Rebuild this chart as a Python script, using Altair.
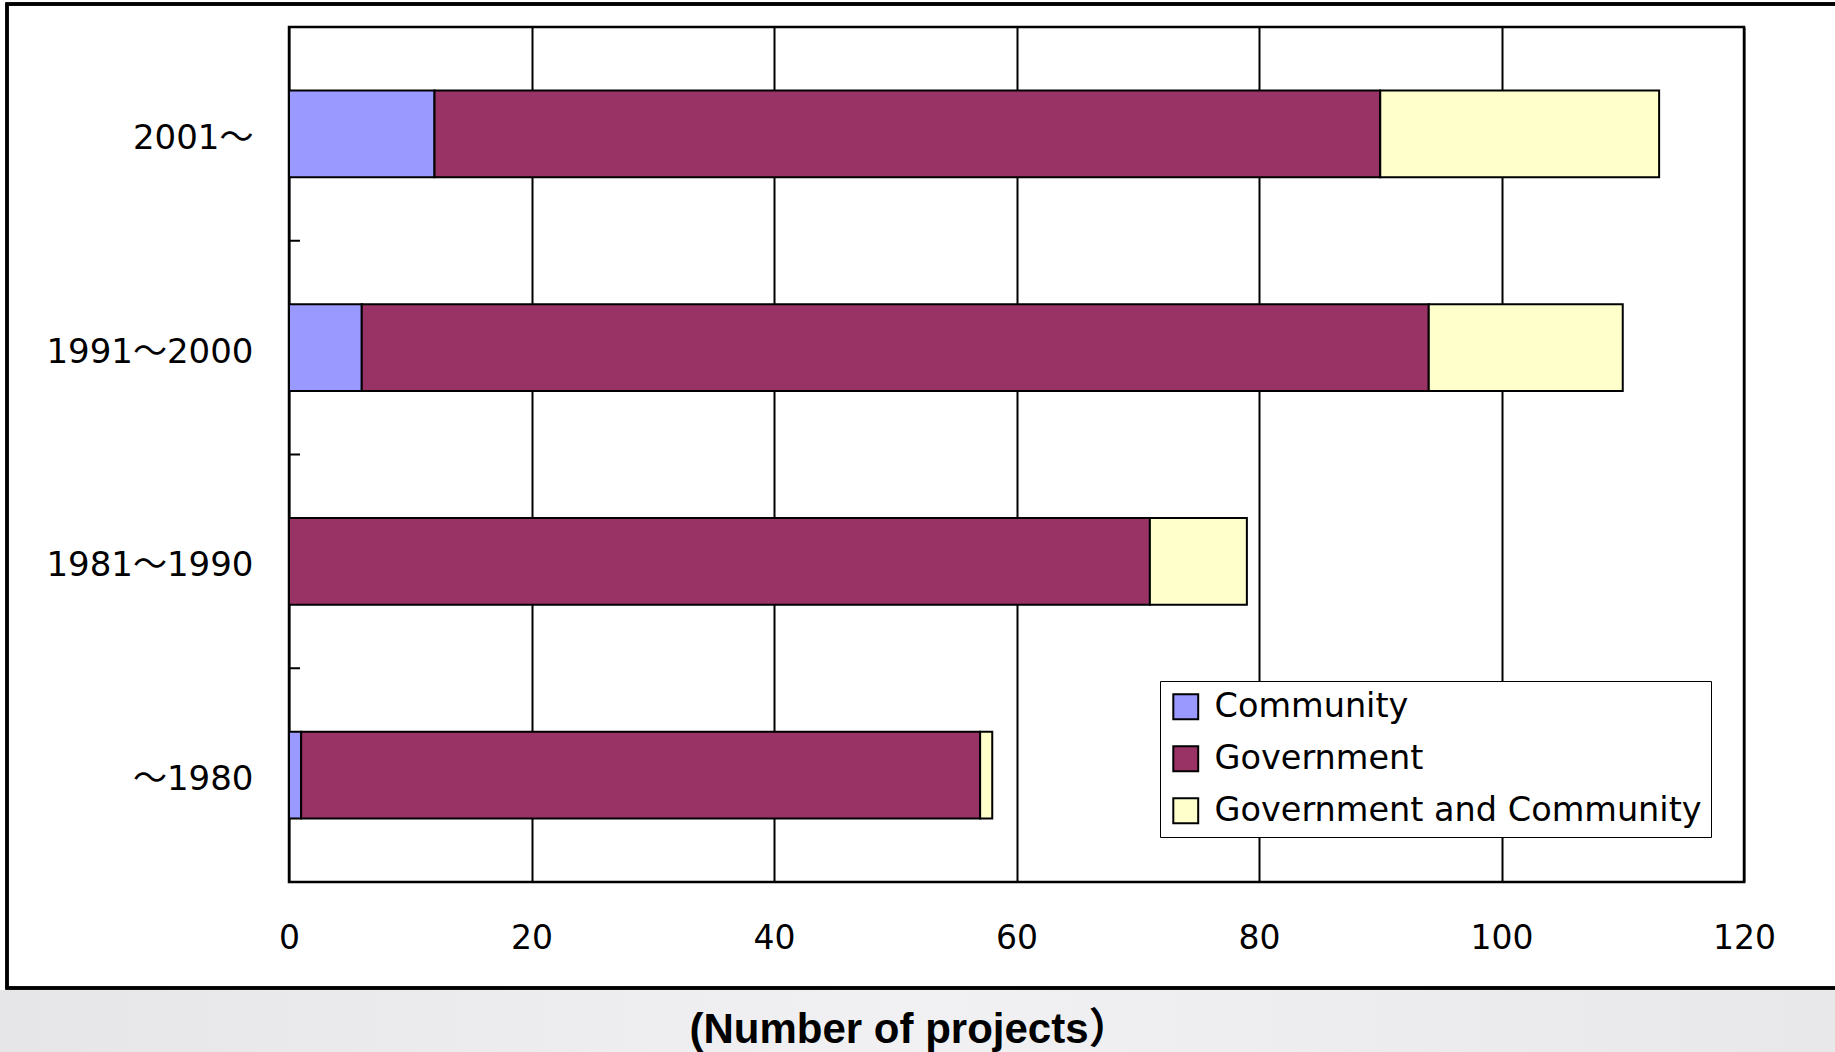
import altair as alt
import pandas as pd

periods = ["2001～", "1991～2000", "1981～1990", "～1980"]
series = ["Community", "Government", "Government and Community"]
community = [12, 6, 0, 1]
government = [78, 88, 71, 56]
gov_and_comm = [23, 16, 8, 1]
colors = ["#9999FF", "#993366", "#FFFFCC"]
x_ticks = [0, 20, 40, 60, 80, 100, 120]
x_title = ["(Number of projects）"]

rows = []
for i, p in enumerate(periods):
    for j, (s, vals) in enumerate(zip(series, [community, government, gov_and_comm])):
        rows.append({"period": p, "series": s, "value": vals[i], "order": j})
df = pd.DataFrame(rows)
tick_df = pd.DataFrame({"period": periods})
title_df = pd.DataFrame({"t": x_title})

W, H = 1455, 855
LABEL_FONT = "DejaVu Sans, Noto Sans CJK JP"

y_enc = alt.Y(
    "period:N",
    sort=periods,
    scale=alt.Scale(paddingInner=0, paddingOuter=0),
    axis=alt.Axis(
        title=None, domain=False, ticks=False, grid=False,
        labelFont=LABEL_FONT, labelFontSize=34, labelColor="black",
        labelPadding=36, labelBaseline="middle", labelLimit=0, labelOffset=5,
    ),
)

bars = alt.Chart(df).mark_bar(
    height=alt.RelativeBandSize(0.407), stroke="black", strokeWidth=2
).encode(
    x=alt.X(
        "value:Q",
        stack="zero",
        scale=alt.Scale(domain=[0, 120], nice=False, zero=True),
        axis=alt.Axis(
            values=x_ticks, grid=True, gridColor="black", gridWidth=2, gridOpacity=1,
            domain=False, ticks=False,
            labelFont=LABEL_FONT, labelFontSize=33, labelColor="black",
            labelPadding=40, labelFlush=False,
            title=None,
        ),
    ),
    y=y_enc,
    color=alt.Color(
        "series:N",
        scale=alt.Scale(domain=series, range=colors),
        legend=alt.Legend(
            title=None, orient="none", legendX=871, legendY=654,
            symbolType="square", symbolSize=620, symbolStrokeColor="black",
            symbolStrokeWidth=2, symbolOpacity=1,
            labelFont=LABEL_FONT, labelFontSize=33.5, labelColor="black",
            labelLimit=0, labelOffset=12, rowPadding=17, padding=9,
            strokeColor="black", fillColor="white",
        ),
    ),
    order=alt.Order("order:Q"),
)

ticks = alt.Chart(tick_df).mark_rule(color="black", strokeWidth=2).encode(
    y=alt.Y("period:N", sort=periods, bandPosition=0),
    x=alt.value(0),
    x2=alt.value(11),
)

gray_band = alt.Chart(tick_df).mark_rect(
    fill=alt.Gradient(
        gradient="linear", x1=0, x2=1, y1=0, y2=0,
        stops=[
            alt.GradientStop(color="#e6e6e8", offset=0),
            alt.GradientStop(color="#f1f1f3", offset=0.5),
            alt.GradientStop(color="#e8e8ea", offset=1),
        ],
    )
).encode(
    x=alt.value(-289), x2=alt.value(W + 91), y=alt.value(963), y2=alt.value(H + 170)
)

frame = alt.Chart(tick_df).mark_rect(
    fill=None, stroke="black", strokeWidth=3
).encode(
    x=alt.value(-282), x2=alt.value(W + 200), y=alt.value(-23), y2=alt.value(961)
)

title = alt.Chart(title_df).mark_text(
    font="Liberation Sans, Noto Sans CJK JP", fontSize=42, fontWeight="bold",
    color="black", align="center", baseline="middle",
).encode(
    text="t:N", x=alt.value(621), y=alt.value(1003)
)

chart = alt.layer(gray_band, frame, bars, ticks, title).properties(
    width=W,
    height=H,
    background="white",
    padding={"left": 289, "top": 27, "right": 91, "bottom": 170},
    autosize=alt.AutoSizeParams(type="none"),
).configure_view(
    stroke="black", strokeWidth=2.5
)

chart.save("out.html", embed_options={"renderer": "svg", "actions": False})
